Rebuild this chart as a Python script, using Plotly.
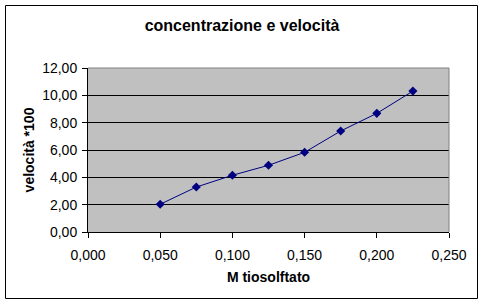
import plotly.graph_objects as go

concentrazione = [0.050, 0.075, 0.100, 0.125, 0.150, 0.175, 0.200, 0.225]
velocita = [2.03, 3.29, 4.15, 4.88, 5.83, 7.39, 8.68, 10.31]

title_text = "concentrazione e velocità"
x_title = "M tiosolftato"
y_title = "velocità *100"

W, H = 485, 305
L, R, T, B = 88, 36, 68, 73
pw, ph = W - L - R, H - T - B

def px(xp):
    return (xp - L) / pw

def py(yp):
    return (H - B - yp) / ph

FAM = "Arial, Liberation Sans, sans-serif"

fig = go.Figure()
fig.add_trace(go.Scatter(
    x=concentrazione, y=velocita, mode="lines+markers",
    line=dict(color="#000080", width=1),
    marker=dict(symbol="diamond", size=7, color="#000080"),
    showlegend=False,
))

fig.update_layout(
    width=W, height=H,
    margin=dict(l=L, r=R, t=T, b=B),
    paper_bgcolor="white",
    plot_bgcolor="#C0C0C0",
    separators=",.",
    font=dict(family=FAM, size=14, color="black"),
    title=dict(text="<b>" + title_text + "</b>", x=242 / W, xanchor="center",
               y=1 - 25 / H, yanchor="middle",
               font=dict(family=FAM, size=16, color="black")),
    xaxis=dict(range=[0, 0.25], tickvals=[0, 0.05, 0.1, 0.15, 0.2, 0.25], tickformat=".3f",
               showgrid=False, zeroline=False, showline=True, linecolor="black", linewidth=1,
               ticks="outside", ticklen=5, tickcolor="black", ticklabelstandoff=5,
               tickfont=dict(family=FAM, size=14, color="black"),
               title=dict(text="<b>" + x_title + "</b>", standoff=10,
                          font=dict(family=FAM, size=14, color="black"))),
    yaxis=dict(range=[0, 12], dtick=2, tickformat=".2f",
               showgrid=True, gridcolor="black", gridwidth=1, zeroline=False,
               showline=True, linecolor="black", linewidth=1,
               ticks="outside", ticklen=5, tickcolor="black", ticklabelstandoff=2,
               tickfont=dict(family=FAM, size=14, color="black"),
               title=dict(text="<b>" + y_title + "</b>", standoff=4,
                          font=dict(family=FAM, size=14, color="black"))),
    shapes=[
        dict(type="line", xref="paper", yref="paper", x0=0, x1=1, y0=1, y1=1,
             line=dict(color="#808080", width=1), layer="above"),
        dict(type="line", xref="paper", yref="paper", x0=1, x1=1, y0=0, y1=1,
             line=dict(color="#808080", width=1), layer="above"),
        dict(type="rect", xref="paper", yref="paper", x0=px(5.5), x1=px(477.5),
             y0=py(298.5), y1=py(5.5), line=dict(color="black", width=1),
             fillcolor="rgba(0,0,0,0)", layer="above"),
    ],
)

fig.write_html("out.html")
